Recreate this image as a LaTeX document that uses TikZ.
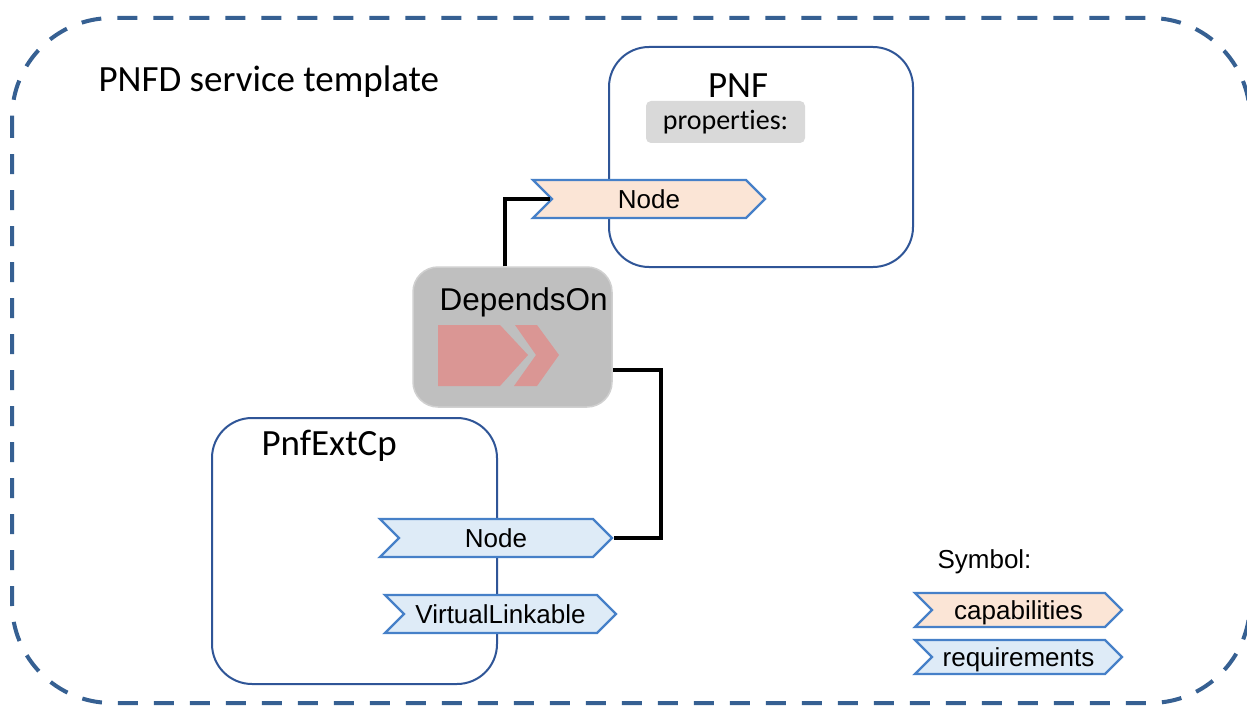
\documentclass[tikz,border=0pt]{standalone}
\usepackage{fontspec}
\setmainfont{Carlito}[Ligatures=NoCommon]
\newfontfamily\arialf{Liberation Sans}
\usetikzlibrary{shapes.symbols}
\definecolor{dashblue}{RGB}{54,96,146}
\definecolor{boxblue}{RGB}{47,85,151}
\definecolor{tagblue}{RGB}{70,128,200}
\definecolor{peach}{RGB}{251,229,214}
\definecolor{reqblue}{RGB}{222,235,247}
\definecolor{depgrey}{RGB}{191,191,191}
\definecolor{depborder}{RGB}{208,208,208}
\definecolor{propgrey}{RGB}{217,217,217}
\definecolor{pinkarrow}{RGB}{218,150,148}
\begin{document}
\begin{tikzpicture}[x=1pt,y=-1pt,
  tagshape/.style={signal, signal from=west, signal to=east, signal pointer angle=90,
    draw=tagblue, line width=2.4pt, minimum height=38pt, inner sep=0pt,
    text height=18.5pt, text depth=0pt,
    font=\arialf\fontsize{26}{29}\selectfont},
  captag/.style={tagshape, fill=peach},
  reqtag/.style={tagshape, fill=reqblue},
  container/.style={draw=boxblue, line width=2pt, rounded corners=40pt},
  conn/.style={draw=black, line width=4pt},
  cal/.style={font=\fontsize{37}{41}\selectfont}]
\useasboundingbox (0,0) rectangle (1247,706);
\fill[white] (0,0) rectangle (1247,706);
% outer dashed template
\draw[dashblue, line width=4pt, dash pattern=on 20pt off 16pt, rounded corners=100pt]
  (12,18) rectangle (1250,703);
\node[cal, anchor=base west] (title) at (95,92) {PNFD service template};
% PNF container
\draw[container] (609,47) rectangle (913,267);
\node[cal, anchor=base] (pnf) at (738,98) {PNF};
\node[fill=propgrey, rounded corners=5pt, minimum width=159pt, minimum height=42pt,
  inner sep=0pt, font=\fontsize{28}{31}\selectfont] (props) at (725.5,122) {properties:};
% PnfExtCp container
\draw[container] (212,418) rectangle (497,684);
\node[cal, anchor=base west] (ext) at (258,455) {PnfExtCp};
% tags
\node[captag, minimum width=232pt] (pnfnode) at (649,199) {Node};
\node[reqtag, minimum width=232pt] (extnode) at (496,538) {Node};
\node[reqtag, minimum width=231pt] (vl) at (500.5,614) {VirtualLinkable};
% DependsOn relationship
\node[draw=depborder, line width=1.5pt, fill=depgrey, rounded corners=25pt,
  minimum width=199pt, minimum height=140pt] (dep) at (512.5,337) {};
\node[anchor=base west, font=\arialf\fontsize{31.5}{34}\selectfont] (deptext) at (436,310) {DependsOn};
\fill[pinkarrow] (438,325) -- (500,325) -- (528,355) -- (500,386) -- (438,386) -- cycle;
\fill[pinkarrow] (515,325) -- (537,325) -- (559,355) -- (537,386) -- (514,386) -- (536,355) -- cycle;
% connectors
\draw[conn] ([xshift=-7.5pt]dep.north) |- (pnfnode.west);
\draw[conn] ([yshift=-33pt]dep.east) -- ++(48,0) |- (extnode.east);
% legend
\node[anchor=base west, font=\arialf\fontsize{26}{29}\selectfont] (sym) at (934,568) {Symbol:};
\node[captag, minimum width=207pt, minimum height=34pt] (symcap) at (1018.5,610) {capabilities};
\node[reqtag, minimum width=207pt, minimum height=34pt] (symreq) at (1018.5,657) {requirements};
\end{tikzpicture}
\end{document}
